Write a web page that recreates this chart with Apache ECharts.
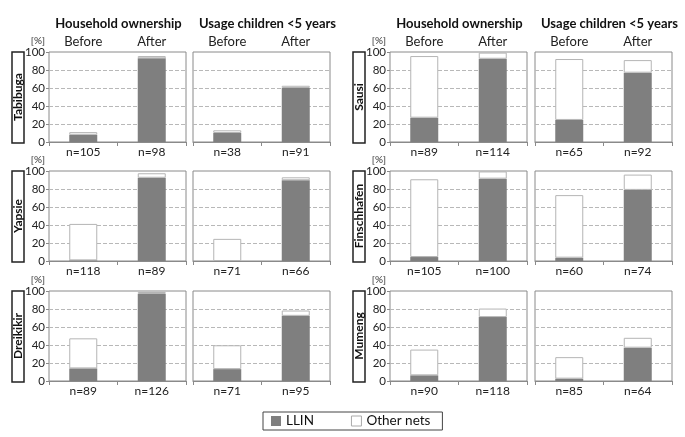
<!DOCTYPE html>
<html><head><meta charset="utf-8">
<script src="https://cdn.jsdelivr.net/npm/echarts@6/dist/echarts.min.js"></script>
<style>html,body{margin:0;padding:0;background:#fff}#c{width:685px;height:437px}</style>
</head><body><div id="c"></div>
<script>
// ---- data ----
var periods = ['Before', 'After'];
var measures = ['Household ownership', 'Usage children <5 years'];
var sitesLeft = ['Tabibuga', 'Yapsie', 'Dreikikir'];
var sitesRight = ['Sausi', 'Finschhafen', 'Mumeng'];
var yTicks = [0, 20, 40, 60, 80, 100];
// per site: [household, usage], each [before, after]
var llin = {
  Tabibuga:    [[8, 93],    [10, 60]],
  Sausi:       [[27, 92.5], [24.5, 77]],
  Yapsie:      [[0.7, 92.5],[0, 89.7]],
  Finschhafen: [[4.4, 91.5],[3.7, 79]],
  Dreikikir:   [[14, 96.7], [13.2, 72.4]],
  Mumeng:      [[6.3, 71],  [2.6, 37]]
};
var otherNets = {
  Tabibuga:    [[3, 2.5],   [3, 2.5]],
  Sausi:       [[68.5, 6.8],[67.7, 14]],
  Yapsie:      [[40.5, 5],  [24.6, 3.3]],
  Finschhafen: [[86.4, 8],  [69.5, 17]],
  Dreikikir:   [[33.4, 2.2],[26.5, 5.9]],
  Mumeng:      [[28.6, 9.5],[23.9, 11]]
};
var nSizes = {
  Tabibuga:    [[105, 98], [38, 91]],
  Sausi:       [[89, 114], [65, 92]],
  Yapsie:      [[118, 89], [71, 66]],
  Finschhafen: [[105, 100],[60, 74]],
  Dreikikir:   [[89, 126], [71, 95]],
  Mumeng:      [[90, 118], [85, 64]]
};

// ---- layout ----
var FONT = 'Lato, "Open Sans", sans-serif';
var colX = [[49, 193], [390, 535]];
var gridW = 137;
var rowY = [52, 171, 291];
var gridH = 90;
var boxX = [12, 353];
var titleShift = [-4, 1];

var grids = [], xAxes = [], yAxes = [], series = [], graphics = [], titles = [];
var gi = 0;
[sitesLeft, sitesRight].forEach(function (sites, side) {
  measures.forEach(function (m, mi) {
    titles.push({ text: m, left: colX[side][mi] + gridW / 2 + titleShift[mi], top: 12, textAlign: 'center',
      textStyle: { fontFamily: FONT, fontSize: 13, fontWeight: 'bold', color: '#111' } });
  });
  sites.forEach(function (site, ri) {
    graphics.push({ type: 'rect', shape: { x: boxX[side], y: rowY[ri], width: 12, height: gridH + 1 },
      style: { fill: '#fff', stroke: '#222', lineWidth: 1.5 } });
    graphics.push({ type: 'text', x: boxX[side] + 6, y: rowY[ri] + gridH / 2, rotation: Math.PI / 2,
      style: { text: site, fill: '#111', font: 'bold 12px ' + FONT, align: 'center', verticalAlign: 'middle' } });
    measures.forEach(function (m, mi) {
      grids.push({ left: colX[side][mi], top: rowY[ri], width: gridW, height: gridH,
        show: true, borderColor: '#8a8a8a', borderWidth: 1, backgroundColor: '#fff' });
      var xi = xAxes.length;
      xAxes.push({ type: 'category', gridIndex: gi, position: 'bottom',
        data: nSizes[site][mi].map(function (v) { return 'n=' + v; }),
        axisLine: { lineStyle: { color: '#8a8a8a' } },
        axisTick: { show: true, length: 4, lineStyle: { color: '#8a8a8a' } },
        axisLabel: { fontFamily: FONT, fontSize: 12, color: '#222', margin: 4 } });
      if (ri === 0) {
        xAxes.push({ type: 'category', gridIndex: gi, position: 'top', data: periods,
          axisLine: { show: false }, axisTick: { show: false },
          axisLabel: { fontFamily: FONT, fontSize: 13, color: '#222', margin: 4 } });
      }
      yAxes.push({ type: 'value', gridIndex: gi, min: 0, max: 100, interval: 20,
        name: mi === 0 ? '[%]' : '', nameLocation: 'end', nameGap: 6,
        nameTextStyle: { fontFamily: FONT, fontSize: 10, color: '#333', align: 'right', padding: [0, 4, 0, 0] },
        axisLine: { show: false },
        axisTick: { show: mi === 0, length: 3, lineStyle: { color: '#8a8a8a' } },
        axisLabel: { show: mi === 0, fontFamily: FONT, fontSize: 11.5, color: '#222', margin: 4 },
        splitLine: { show: true, lineStyle: { type: 'dashed', width: 1,
          color: ['transparent', '#b8b8b8', '#b8b8b8', '#b8b8b8', '#b8b8b8', 'transparent'] } } });
      series.push({ type: 'bar', name: 'LLIN', stack: 's' + gi, xAxisIndex: xi, yAxisIndex: gi,
        barWidth: 28, data: llin[site][mi],
        itemStyle: { color: '#7f7f7f' } });
      series.push({ type: 'bar', name: 'Other nets', stack: 's' + gi, xAxisIndex: xi, yAxisIndex: gi,
        barWidth: 28, data: otherNets[site][mi],
        itemStyle: { color: '#fff', borderColor: '#b5b5b5', borderWidth: 1 } });
      gi++;
    });
  });
});

var chart = echarts.init(document.getElementById('c'), null, { renderer: 'canvas' });
chart.setOption({
  animation: false,
  backgroundColor: '#fff',
  title: titles,
  grid: grids,
  xAxis: xAxes,
  yAxis: yAxes,
  series: series,
  graphic: graphics,
  legend: {
    left: 263, top: 412, orient: 'horizontal',
    itemWidth: 10, itemHeight: 10, itemGap: 37,
    borderColor: '#444', borderWidth: 1, padding: [2, 12, 2, 8],
    textStyle: { fontFamily: FONT, fontSize: 13.5, color: '#111' },
    data: [
      { name: 'LLIN', icon: 'rect', itemStyle: { color: '#7f7f7f', borderWidth: 0 } },
      { name: 'Other nets', icon: 'rect', itemStyle: { color: '#fff', borderColor: '#aaa', borderWidth: 1 } }
    ]
  }
});
</script></body></html>
